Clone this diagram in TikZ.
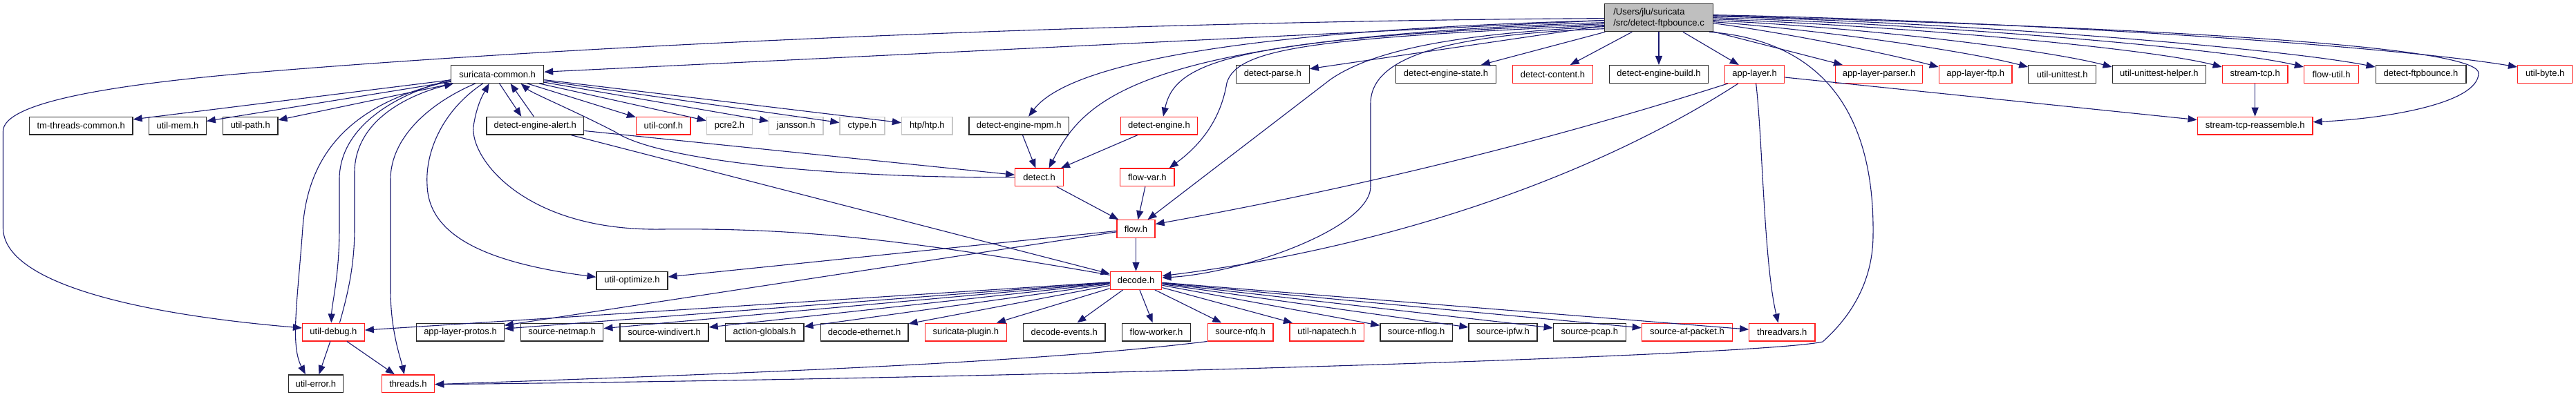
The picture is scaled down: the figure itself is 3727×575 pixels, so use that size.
\documentclass[tikz,border=0pt]{standalone}
\usepackage{fontspec}
\setmainfont{Liberation Sans}
\usetikzlibrary{arrows.meta}
\definecolor{edgecol}{RGB}{25,25,112}
\definecolor{rootfill}{RGB}{191,191,191}
\definecolor{boxblack}{RGB}{40,40,40}
\definecolor{boxred}{RGB}{255,30,30}
\definecolor{boxgrey}{RGB}{200,200,200}
\begin{document}
\begin{tikzpicture}[x=1pt,y=-1pt,
  nd/.style={rectangle, draw, line width=1.3pt, fill=white, minimum height=25.7pt, inner sep=0pt, font=\fontsize{13}{16}\selectfont, text=black},
  bbox/.style={nd, draw=boxblack},
  rbox/.style={nd, draw=boxred},
  gbox/.style={nd, draw=boxgrey},
  rootbox/.style={nd, draw=boxblack, fill=rootfill, minimum height=40pt, align=left},
  edge/.style={draw=edgecol, line width=1.1pt, -{Triangle[length=13pt,width=10pt]}},
]
\fill[white] (0,0) rectangle (3727,575);
\useasboundingbox (0,0) rectangle (3727,575);

% top node
\node[rootbox, minimum width=156.6pt] (root) at (2400,25.65) {/Users/jlu/suricata\\/src/detect-ftpbounce.c};

% row 1
\node[bbox, minimum width=134pt]   (sc)       at (719.6,107.5)  {suricata-common.h};
\node[bbox, minimum width=105.8pt] (dparse)   at (1841.3,107.5) {detect-parse.h};
\node[bbox, minimum width=144.7pt] (destate)  at (2092,107.5)   {detect-engine-state.h};
\node[rbox, minimum width=116pt]   (dcontent) at (2246.4,107.5) {detect-content.h};
\node[bbox, minimum width=142.8pt] (dbuild)   at (2400,107.5)   {detect-engine-build.h};
\node[rbox, minimum width=86.2pt]  (al)       at (2538.6,107.5) {app-layer.h};
\node[rbox, minimum width=125.4pt] (alparser) at (2718.5,107.5) {app-layer-parser.h};
\node[rbox, minimum width=105.8pt] (alftp)    at (2858.2,107.5) {app-layer-ftp.h};
\node[bbox, minimum width=97.8pt]  (uut)      at (2983.7,107.5) {util-unittest.h};
\node[bbox, minimum width=135.3pt] (uuth)     at (3123.9,107.5) {util-unittest-helper.h};
\node[rbox, minimum width=94.7pt]  (stcp)     at (3262.6,107.5) {stream-tcp.h};
\node[rbox, minimum width=79.2pt]  (futil)    at (3373.1,107.5) {flow-util.h};
\node[bbox, minimum width=130.7pt] (dfb)      at (3502.5,107.5) {detect-ftpbounce.h};
\node[rbox, minimum width=79.2pt]  (ubyte)    at (3682.2,107.5) {util-byte.h};

% row 2
\node[bbox, minimum width=149.6pt] (tmt)      at (117.2,182.2)  {tm-threads-common.h};
\node[bbox, minimum width=82.6pt]  (umem)     at (256.9,182.2)  {util-mem.h};
\node[bbox, minimum width=79.1pt]  (upath)    at (362.3,182.2)  {util-path.h};
\node[bbox, minimum width=140.6pt] (dea)      at (774.3,182.2)  {detect-engine-alert.h};
\node[rbox, minimum width=78.5pt]  (uconf)    at (959.8,182.2)  {util-conf.h};
\node[gbox, minimum width=66.6pt]  (pcre)     at (1055.5,182.2) {pcre2.h};
\node[gbox, minimum width=78.3pt]  (jansson)  at (1151.8,182.2) {jansson.h};
\node[gbox, minimum width=65pt]    (ctype)    at (1247.5,182.2) {ctype.h};
\node[gbox, minimum width=73.5pt]  (htp)      at (1341.3,182.2) {htp/htp.h};
\node[bbox, minimum width=144.4pt] (dempm)    at (1474.2,182.2) {detect-engine-mpm.h};
\node[rbox, minimum width=111.2pt] (de)       at (1677,182.2)   {detect-engine.h};
\node[rbox, minimum width=166.7pt] (stcpr)    at (3262.6,182.2) {stream-tcp-reassemble.h};

% row 3
\node[rbox, minimum width=69.7pt]  (detect)   at (1503.6,256.9) {detect.h};
\node[rbox, minimum width=78.5pt]  (fvar)     at (1659.8,256.9) {flow-var.h};

% row 4
\node[rbox, minimum width=55pt]    (flow)     at (1643.5,331.6) {flow.h};

% row 5
\node[bbox, minimum width=103pt]   (uopt)     at (914.5,406.3)  {util-optimize.h};
\node[rbox, minimum width=74.6pt]  (decode)   at (1643.5,406.3) {decode.h};

% row 6
\node[rbox, minimum width=89.7pt]  (udebug)   at (482.4,481)  {util-debug.h};
\node[bbox, minimum width=126.5pt] (alprot)   at (666,481)    {app-layer-protos.h};
\node[bbox, minimum width=119.2pt] (snetmap)  at (813.2,481)  {source-netmap.h};
\node[bbox, minimum width=128.1pt] (swindiv)  at (961,481)    {source-windivert.h};
\node[bbox, minimum width=113.4pt] (actglob)  at (1106.2,481) {action-globals.h};
\node[bbox, minimum width=126.7pt] (deceth)   at (1250.5,481) {decode-ethernet.h};
\node[rbox, minimum width=117.8pt] (splugin)  at (1397.3,481) {suricata-plugin.h};
\node[bbox, minimum width=118.7pt] (devents)  at (1539.7,481) {decode-events.h};
\node[bbox, minimum width=98.7pt]  (fworker)  at (1673,481)   {flow-worker.h};
\node[rbox, minimum width=94.6pt]  (snfq)     at (1794.6,481) {source-nfq.h};
\node[rbox, minimum width=107.8pt] (unapa)    at (1919.9,481) {util-napatech.h};
\node[bbox, minimum width=104.4pt] (snflog)   at (2049.1,481) {source-nflog.h};
\node[bbox, minimum width=99pt]    (sipfw)    at (2174.5,481) {source-ipfw.h};
\node[bbox, minimum width=104.9pt] (spcap)    at (2299.8,481) {source-pcap.h};
\node[rbox, minimum width=131.3pt] (safp)     at (2441,481)   {source-af-packet.h};
\node[rbox, minimum width=95.1pt]  (tvars)    at (2578.3,481) {threadvars.h};

% row 7
\node[bbox, minimum width=79pt]    (uerr)     at (456.9,555.7) {util-error.h};
\node[rbox, minimum width=76.4pt]  (threads)  at (590.4,555.7) {threads.h};

% ---------- edges from the top node ----------
\draw[edge] (root) -- (sc);
\draw[edge] ([yshift=-1pt]root.west) .. controls (1700,30) and (900,60) .. (357,106)
   .. controls (150,124) and (4.5,150) .. (4.5,190) -- (4.5,330)
   .. controls (4.5,410) and (200,455) .. ([yshift=6pt]udebug.west);
\draw[edge] ([yshift=-4pt]root.west) .. controls (1750,45) and (1540,100) .. ([xshift=14pt]dempm.north);
\draw[edge] ([yshift=-7pt]root.west) .. controls (1650,55) and (1570,140) .. ([xshift=14pt]detect.north);
\draw[edge] ([yshift=-9pt]root.west) .. controls (1780,55) and (1700,90) .. ([xshift=6pt]de.north);
\draw[edge] ([yshift=-11pt]root.west) .. controls (1900,55) and (1790,70) .. (1775,120)
   .. controls (1765,180) and (1730,215) .. ([xshift=-8pt]fvar.north east);
\draw[edge] ([yshift=-13pt]root.west) .. controls (2120,48) and (1990,70) .. (1925,115) -- ([xshift=17pt]flow.north);
\draw[edge] ([yshift=-16pt]root.west) .. controls (2100,50) and (1983,80) .. (1983,150) -- (1983,270)
   .. controls (1983,330) and (1800,395) .. ([yshift=4pt]decode.east);
\draw[edge] (root) -- (dparse);
\draw[edge] (root) -- (destate);
\draw[edge] (root) -- (dcontent);
\draw[edge] (root) -- (dbuild);
\draw[edge] (root) -- (al);
\draw[edge] (root) -- (alparser);
\draw[edge] ([yshift=-8pt]root.east) .. controls (2600,50) and (2740,80) .. ([yshift=-3pt]alftp.north west);
\draw[edge] ([yshift=-6pt]root.east) .. controls (2650,45) and (2850,75) .. ([yshift=-3pt]uut.north west);
\draw[edge] ([yshift=-4pt]root.east) .. controls (2700,40) and (2960,72) .. ([yshift=-3pt]uuth.north west);
\draw[edge] ([yshift=-2pt]root.east) .. controls (2760,38) and (3110,70) .. ([yshift=-3pt]stcp.north west);
\draw[edge] (root.east) .. controls (2800,35) and (3220,70) .. ([yshift=-3pt]futil.north west);
\draw[edge] ([yshift=2pt]root.east) .. controls (2850,33) and (3300,70) .. ([yshift=-3pt]dfb.north west);
\draw[edge] ([yshift=4pt]root.east) .. controls (2900,30) and (3450,65) .. ([yshift=-3pt]ubyte.north west);
\draw[edge] ([yshift=3pt]root.east) .. controls (3300,45) and (3586,75) .. (3586,106)
   .. controls (3586,150) and (3450,172) .. ([yshift=5.5pt]stcpr.east);
\draw[edge] ([xshift=-6pt]root.south east) .. controls (2650,60) and (2712,180) .. (2710,340)
   .. controls (2710,420) and (2665,470) .. (2637,495)
   .. controls (2550,515) and (1500,548) .. ([yshift=-1pt]threads.east);

% ---------- suricata-common.h ----------
\draw[edge] (sc) -- (tmt);
\draw[edge] (sc) -- (umem);
\draw[edge] (sc) -- (upath);
\draw[edge] ([yshift=-8pt]sc.west) .. controls (560,140) and (491,190) .. (491,260) -- (491,330)
   .. controls (491,400) and (480,440) .. ([xshift=-3pt]udebug.north);
\draw[edge] ([xshift=9pt]udebug.north) .. controls (505,420) and (513,380) .. (513,330) -- (513,250)
   .. controls (513,170) and (600,135) .. ([xshift=4pt]sc.south west);
\draw[edge] ([yshift=-10pt]sc.west) .. controls (500,150) and (445,230) .. (438,330)
   .. controls (430,440) and (420,500) .. ([xshift=-15pt]uerr.north);
\draw[edge] ([xshift=-32pt]sc.south) .. controls (620,150) and (565,200) .. (565,260) -- (565,420)
   .. controls (565,480) and (580,520) .. ([xshift=-5.6pt]threads.north);
\draw[edge] ([xshift=-21pt]sc.south) .. controls (640,160) and (615,220) .. (618,268)
   .. controls (620,340) and (700,380) .. ([yshift=5pt]uopt.west);
\draw[edge] ([xshift=3pt]sc.south) -- ([xshift=-20pt]dea.north);
\draw[edge] ([xshift=-2pt]dea.north) -- ([xshift=19pt]sc.south);
\draw[edge] (sc) -- (uconf);
\draw[edge] (sc) -- (pcre);
\draw[edge] (sc) -- (jansson);
\draw[edge] (sc) -- (ctype);
\draw[edge] (sc) -- (htp);

% ---------- detect / flow / decode ----------
\draw[edge] (dea) -- (detect);
\draw[edge] (dea) -- (decode);
\draw[edge] (detect.west) .. controls (1200,258) and (950,232) .. (890,191)
   .. controls (830,160) and (770,135) .. ([xshift=34pt]sc.south);
\draw[edge] ([yshift=8pt]decode.west) .. controls (1300,345) and (1150,330) .. (957,332)
   .. controls (760,335) and (680,230) .. (685,183)
   .. controls (690,150) and (700,135) .. ([xshift=-12pt]sc.south);
\draw[edge] (dempm) -- (detect);
\draw[edge] (de) -- (detect);
\draw[edge] (detect) -- (flow);
\draw[edge] (fvar) -- (flow);
\draw[edge] (flow) -- (decode);
\draw[edge] (flow) -- (uopt);
\draw[edge] (flow) -- (alprot);

\foreach \t in {udebug,alprot,snetmap,swindiv,actglob,deceth,splugin,devents,fworker,snfq,unapa,snflog,sipfw,spcap,safp,tvars}
  \draw[edge] (decode) -- (\t);

\draw[edge] (udebug) -- (uerr);
\draw[edge] (udebug) -- (threads);
\draw[edge] (snfq.south west) .. controls (1500,525) and (1100,540) .. ([yshift=-1pt]threads.east);

% ---------- app-layer.h ----------
\draw[edge] ([xshift=5pt]al.south west) .. controls (2200,217) and (1921,279.5) .. ([yshift=7pt]flow.east);
\draw[edge] ([xshift=20pt]al.south west) .. controls (2300,260) and (2000,360) .. ([yshift=6.6pt]decode.east);
\draw[edge] ([xshift=2pt]al.south) .. controls (2550,200) and (2552,380) .. ([xshift=-5.6pt]tvars.north);
\draw[edge] (al) -- (stcpr);
\draw[edge] (stcp) -- (stcpr);
\end{tikzpicture}
\end{document}
